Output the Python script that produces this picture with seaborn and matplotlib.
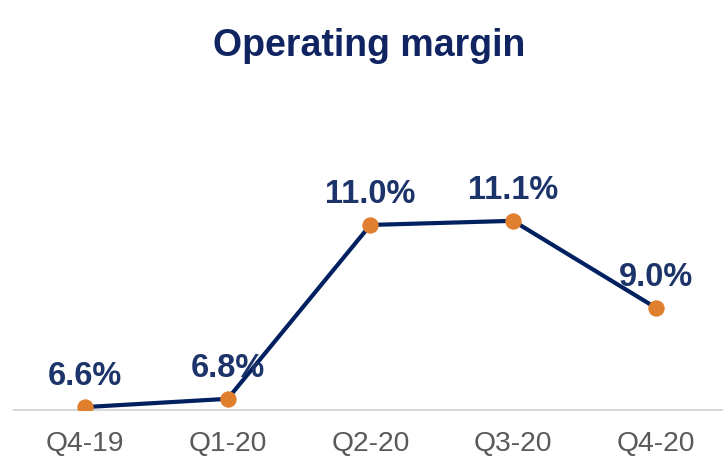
import matplotlib
matplotlib.use("Agg")
import matplotlib.pyplot as plt
import seaborn as sns
import pandas as pd

quarters = ["Q4-19", "Q1-20", "Q2-20", "Q3-20", "Q4-20"]
margin = [6.6, 6.8, 11.0, 11.1, 9.0]
labels = ["6.6%", "6.8%", "11.0%", "11.1%", "9.0%"]

data = pd.DataFrame({"Quarter": quarters, "Margin": margin})

sns.set_style("white")
plt.rcParams["font.family"] = ["Liberation Sans", "DejaVu Sans"]

navy = "#002060"
orange = "#E07F2E"
label_col = "#1C3469"

fig = plt.figure(figsize=(7.23, 4.58), dpi=100)
ax = fig.add_axes([0.0188, 0.1048, 0.987, 0.677])

sns.lineplot(x="Quarter", y="Margin", data=data, sort=False, ax=ax,
             color=navy, linewidth=3, marker="o", markersize=11,
             markerfacecolor=orange, markeredgecolor=orange, zorder=3)

for i, (v, t) in enumerate(zip(margin, labels)):
    ax.annotate(t, (i, v), xytext=(0, 22), textcoords="offset points",
                ha="center", va="center", fontsize=23.5, fontweight="bold",
                color=label_col)

ax.set_xlim(-0.5, 4.5)
ax.set_ylim(6.53, 14.02)
ax.set_yticks([])
ax.set_xlabel("")
ax.set_ylabel("")
for s in ["top", "right", "left"]:
    ax.spines[s].set_visible(False)
ax.spines["bottom"].set_color("#D9D9D9")
ax.spines["bottom"].set_linewidth(1.5)
ax.tick_params(axis="x", length=0, pad=15, labelsize=20.3, labelcolor="#595959")

fig.text(0.511, 0.9, "Operating margin", ha="center", va="center",
         fontsize=27, fontweight="bold", color="#0F2460")

fig.savefig("out.png", dpi=100)
